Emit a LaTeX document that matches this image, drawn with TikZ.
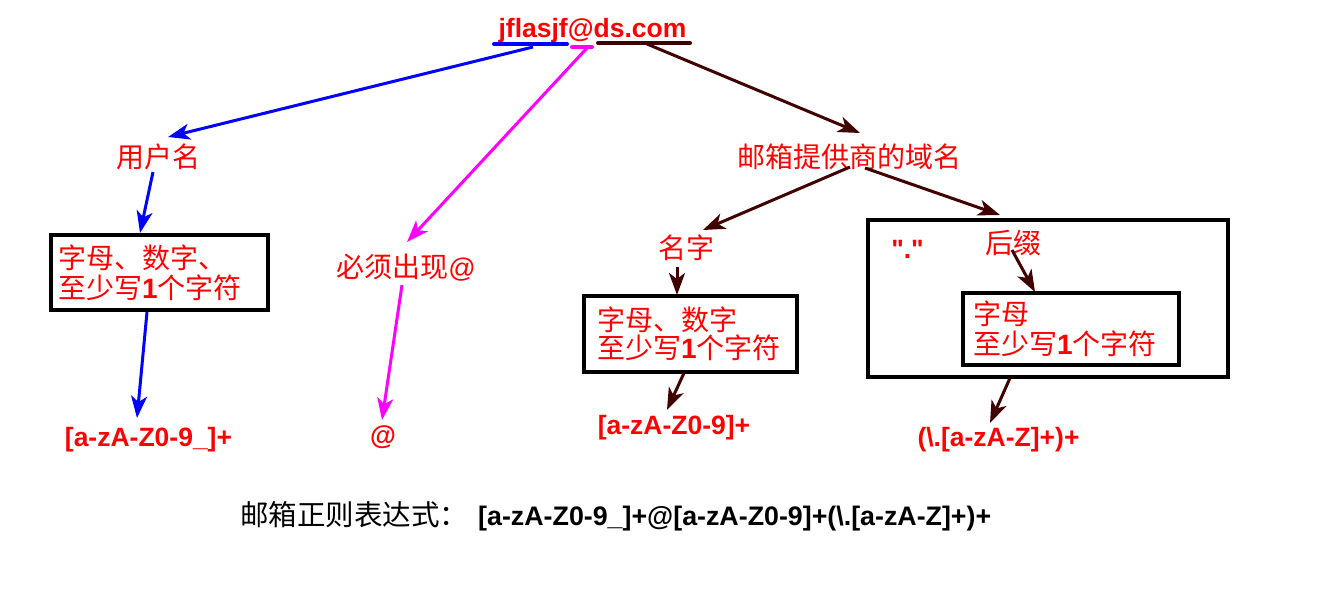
\documentclass[tikz,border=0pt]{standalone}
\usepackage{fontspec}
\setmainfont{Noto Sans CJK SC}
\newfontfamily\arial{Liberation Sans}
\usetikzlibrary{arrows.meta,calc,shadows}
\definecolor{myred}{RGB}{255,0,0}
\definecolor{myblue}{RGB}{0,0,255}
\definecolor{mymag}{RGB}{255,0,255}
\definecolor{mymaroon}{RGB}{64,0,0}
\tikzset{
  lbl/.style={inner sep=0pt, text=myred, font=\fontsize{28}{30}\selectfont},
  rxlbl/.style={inner sep=0pt, text=myred, font=\arial\bfseries\fontsize{26.5}{30}\selectfont},
  boxnode/.style={draw=black, line width=3.5pt, fill=white, align=left, text=myred,
     font=\fontsize{28}{30}\selectfont, inner ysep=0pt,
     drop shadow={shadow xshift=2pt, shadow yshift=-2pt, opacity=0.35}},
  arr/.style={line width=3pt, -{Stealth[length=22pt,width=16pt,inset=6pt]}},
  bluearr/.style={arr, draw=myblue},
  magarr/.style={arr, draw=mymag},
  mararr/.style={arr, draw=mymaroon},
  uline/.style={line width=4pt, line cap=round}
}
\begin{document}
\begin{tikzpicture}[x=1pt,y=-1pt]
\useasboundingbox (0,0) rectangle (1334,589);

% top email
\node[rxlbl, anchor=base] (email) at (592.5,37) {jflasjf@ds.com};
\coordinate (ub1) at (494,44); \coordinate (ub2) at (567,44);
\coordinate (up1) at (572,47); \coordinate (up2) at (592,47);
\coordinate (um1) at (598,43); \coordinate (um2) at (690,43);
\draw[uline, myblue] (ub1) -- (ub2);
\draw[uline, mymag] (up1) -- (up2);
\draw[uline, mymaroon] (um1) -- (um2);

% left branch
\node[lbl] (user) at (158.5,156.5) {用户名};
\node[boxnode, minimum width=217pt, minimum height=75pt, text width=203pt, inner xsep=7pt]
  (box1) at (159.5,272.5) {字母、数字、\\至少写{\arial\bfseries 1}个字符};
\node[rxlbl, anchor=base] (rx1) at (148.5,446) {[a-zA-Z0-9\_]+};

% middle branch
\node[lbl] (must) at (406,268) {必须出现{\arial\fontsize{27}{30}\selectfont @}};
\node[rxlbl, anchor=base] (at) at (383,444) {@};

% right branch
\node[lbl] (domain) at (849,157) {邮箱提供商的域名};
\node[lbl] (name) at (686,248) {名字};
\node[boxnode, minimum width=213pt, minimum height=76pt, text width=187pt, inner xsep=13pt,
  font=\fontsize{28}{28}\selectfont]
  (box2) at (690.5,334) {字母、数字\\至少写{\arial\bfseries 1}个字符};
\node[rxlbl, anchor=base] (rx2) at (674,434.5) {[a-zA-Z0-9]+};

\node[draw=black, line width=3.5pt, fill=white, minimum width=360pt, minimum height=157pt,
  drop shadow={shadow xshift=2pt, shadow yshift=-2pt, opacity=0.35}]
  (outer) at (1048,298.5) {};
\node[rxlbl, anchor=base] (dot) at (907.5,258) {"."};
\node[lbl] (suffix) at (1013.5,243) {后缀};
\node[boxnode, minimum width=216pt, minimum height=72pt, text width=196pt, inner xsep=10pt]
  (box3) at (1071,329) {字母\\至少写{\arial\bfseries 1}个字符};
\node[rxlbl, anchor=base] (rx3) at (998.5,446) {(\textbackslash.[a-zA-Z]+)+};

% bottom
\node[inner sep=0pt, anchor=base west, font=\fontsize{28.5}{30}\selectfont] (summary) at (240,525)
  {邮箱正则表达式：\hspace{10pt}{\arial\bfseries\fontsize{26.8}{30}\selectfont [a-zA-Z0-9\_]+@[a-zA-Z0-9]+(\textbackslash.[a-zA-Z]+)+}};

% arrows
\draw[bluearr] ($(email.base)+(-59.5,10)$) -- ($(user.center)+(9.5,-19.5)$);
\draw[bluearr] ($(user.center)+(-5.5,15.5)$) -- ($(box1.center)+(-19.5,-39.5)$);
\draw[bluearr] ($(box1.center)+(-12.5,39.5)$) -- ($(rx1.base)+(-11.5,-28)$);

\draw[magarr] ($(email.base)+(-5.5,11)$) -- ($(must.center)+(1,-26)$);
\draw[magarr] ($(must.center)+(-4,17)$) -- ($(at.base)+(-1,-24)$);

\draw[mararr] ($(email.base)+(54.5,7)$) -- ($(domain.center)+(11,-24)$);
\draw[mararr] ($(domain.center)+(1,10)$) -- ($(name.center)+(17,-18)$);
\draw[mararr] ($(domain.center)+(16,11)$) -- ($(outer.center)+(-48,-83.5)$);
\draw[mararr] ($(name.center)+(-9,19)$) -- ($(box2.center)+(-13.5,-39)$);
\draw[mararr] ($(box2.center)+(-6.5,39)$) -- ($(rx2.base)+(-7,-24.5)$);
\draw[mararr] ($(suffix.center)+(-1.5,7)$) -- ($(box3.center)+(-36,-37)$);
\draw[mararr] ($(outer.center)+(-38,79.5)$) -- ($(rx3.base)+(-8.5,-23)$);
\end{tikzpicture}
\end{document}
